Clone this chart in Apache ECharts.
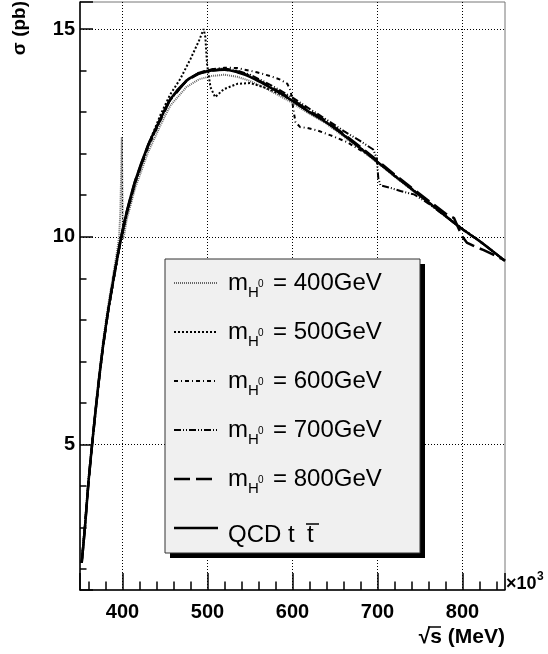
<!DOCTYPE html>
<html><head><meta charset="utf-8">
<script src="https://cdn.jsdelivr.net/npm/echarts@6/dist/echarts.min.js"></script>
<style>html,body{margin:0;padding:0;background:#fff}#c{width:548px;height:654px}</style>
</head><body><div id="c"></div>
<script>
// ---- data (sqrt(s) in units of 10^3 MeV, sigma in pb) ----
const qcdX = [352,356,360,364,368,372,377,383,390,398,405,415,430,445,456,475,490,505,520,535,550,566,586,600,620,640,660,680,700,720,740,760,780,800,820,850];
const qcdY = [2.15,3.05,4.1,4.95,5.75,6.5,7.35,8.2,9.05,9.95,10.6,11.35,12.2,12.85,13.3,13.75,13.93,14.0,14.02,13.96,13.85,13.68,13.45,13.27,13.0,12.75,12.45,12.13,11.8,11.47,11.15,10.83,10.5,10.18,9.9,9.42];

const h400 = [[352,2.2],[356,3.15],[360,4.2],[364,5.05],[368,5.85],[372,6.62],[377,7.47],[383,8.33],[390,9.2],[394,9.7],[396,10.0],[397.5,10.6],[398.5,11.6],[399.2,12.4],[399.8,11.2],[400.5,9.95],[402,10.05],[405,10.42],[415,11.18],[430,12.03],[445,12.7],[456,13.15],[475,13.6],[490,13.79],[505,13.87],[520,13.9],[535,13.85],[550,13.75],[566,13.6],[586,13.38],[600,13.22],[620,12.96],[640,12.72],[660,12.42],[680,12.1],[700,11.78],[720,11.45],[740,11.13],[760,10.81],[780,10.49],[800,10.17],[820,9.89],[850,9.42]];
const h500 = [[352,2.15],[356,3.05],[360,4.1],[364,4.95],[368,5.75],[372,6.5],[377,7.33],[383,8.17],[390,9.0],[398,9.9],[405,10.52],[415,11.3],[430,12.2],[445,12.95],[456,13.42],[468,13.8],[480,14.28],[490,14.72],[495.5,15.0],[497.5,14.8],[499.5,14.15],[503.5,13.6],[509,13.36],[519,13.55],[535,13.68],[550,13.7],[566,13.6],[586,13.43],[600,13.27],[620,13.0],[640,12.76],[660,12.46],[680,12.14],[700,11.8],[720,11.48],[740,11.16],[760,10.84],[780,10.51],[800,10.19],[820,9.9],[850,9.42]];
const h600 = [[352,2.15],[356,3.05],[360,4.1],[364,4.95],[368,5.75],[372,6.5],[377,7.35],[383,8.2],[390,9.05],[398,9.93],[405,10.55],[415,11.3],[430,12.15],[445,12.82],[456,13.28],[475,13.75],[490,13.95],[505,14.03],[520,14.07],[535,14.06],[558,13.96],[575,13.86],[586,13.78],[594,13.68],[598,13.5],[601.5,13.0],[603.5,12.76],[609,12.64],[617,12.62],[629,12.56],[645,12.44],[664,12.28],[676,12.13],[690,11.97],[700,11.8],[720,11.47],[740,11.15],[760,10.83],[780,10.5],[800,10.18],[820,9.9],[850,9.42]];
const h700 = [[352,2.15],[356,3.05],[360,4.1],[364,4.95],[368,5.75],[372,6.5],[377,7.35],[383,8.2],[390,9.05],[398,9.95],[405,10.58],[415,11.32],[430,12.17],[445,12.84],[456,13.3],[475,13.76],[490,13.95],[505,14.03],[520,14.05],[535,14.0],[550,13.9],[566,13.74],[586,13.52],[600,13.35],[620,13.08],[640,12.82],[660,12.55],[680,12.3],[695,12.1],[699,11.9],[701,11.4],[703.5,11.24],[715,11.18],[727,11.1],[743,11.02],[760,10.8],[780,10.49],[800,10.18],[820,9.9],[850,9.42]];
const h800 = [[352,2.15],[356,3.05],[360,4.1],[364,4.95],[368,5.75],[372,6.5],[377,7.35],[383,8.2],[390,9.05],[398,9.95],[405,10.6],[415,11.35],[430,12.2],[445,12.85],[456,13.3],[475,13.75],[490,13.93],[505,14.0],[520,14.03],[535,13.98],[550,13.87],[566,13.7],[586,13.47],[600,13.3],[620,13.03],[640,12.78],[660,12.48],[680,12.16],[700,11.83],[720,11.5],[740,11.18],[760,10.87],[780,10.56],[790,10.45],[795,10.22],[800,10.0],[805,9.86],[815,9.76],[825,9.68],[835,9.58],[845,9.48],[850,9.43]];

const higgsMasses = ['400GeV','500GeV','600GeV','700GeV','800GeV'];
const qcdLabel = 'QCD t';
const xTitle = '√s (MeV)';
const yTitle = 'σ (pb)';

// ---- styles ----
const FONT = "'Liberation Sans', Arial, Helvetica, sans-serif";
const lineStyles = [
  {color:'#666', width:2, dash:[1,1]},
  {color:'#000', width:2, dash:[2,2]},
  {color:'#000', width:2, dash:[4,3,1,3]},
  {color:'#000', width:2, dash:[7,2,1,2,1,2]},
  {color:'#000', width:2.5, dash:[16,6]},
  {color:'#000', width:2.5, dash:null}
];

const qcd = qcdX.map((x,i)=>[x,qcdY[i]]);
const allData = [h400,h500,h600,h700,h800,qcd];
const names = higgsMasses.map(m=>'mH0 = '+m).concat(['QCD t tbar']);

const series = allData.map((d,i)=>({
  name: names[i], type:'line', data:d, showSymbol:false, symbol:'none',
  smooth: i===5 ? 0.3 : false, silent:true, animation:false, z: 2+i,
  lineStyle:{color:lineStyles[i].color, width:lineStyles[i].width, type: lineStyles[i].dash || 'solid', cap:'butt'}
}));

// ---- legend (drawn as graphic) ----
const rowsY = [283,332,381,430,479,528];
const graphic = [
  {type:'rect', shape:{x:170,y:264,width:255,height:294}, style:{fill:'#000'}, z:50},
  {type:'rect', shape:{x:165,y:259,width:255,height:294}, style:{fill:'#f0f0f0', stroke:'#333', lineWidth:1}, z:51}
];
function txt(x,y,t,font,align,valign,extra){
  return Object.assign({type:'text', x:x, y:y, z:52,
    style:{text:t, font:font, fill:'#000', align:align||'left', textAlign:align||'left', verticalAlign:valign||'middle', textVerticalAlign:valign||'middle'}}, extra||{});
}
rowsY.forEach((ry,i)=>{
  const ls = lineStyles[i];
  graphic.push({type:'line', shape:{x1:174,y1:ry,x2:218,y2:ry}, z:52,
    style:{stroke:ls.color, lineWidth:ls.width, lineDash: ls.dash || null}});
  if (i<5){
    graphic.push(txt(228, ry, 'm', '24px '+FONT));
    graphic.push(txt(248, ry+10, 'H', '15px '+FONT));
    graphic.push(txt(258, ry+1, '0', '10px '+FONT));
    graphic.push(txt(273, ry, '= '+higgsMasses[i], '24px '+FONT));
  } else {
    graphic.push(txt(228, ry+7, qcdLabel, '24px '+FONT));
    graphic.push(txt(307, ry+7, 't', '24px '+FONT));
    graphic.push({type:'line', shape:{x1:306,y1:ry-4,x2:319,y2:ry-4}, z:52, style:{stroke:'#000', lineWidth:1.5}});
  }
});
// axis titles
graphic.push(txt(20, 1, yTitle, 'bold 19px '+FONT, 'right', 'middle', {rotation: Math.PI/2}));
graphic.push(txt(505, 637, xTitle, 'bold 21px '+FONT, 'right', 'middle'));
graphic.push({type:'line', shape:{x1:428,y1:627,x2:441,y2:627}, z:52, style:{stroke:'#000', lineWidth:1.5}});
graphic.push(txt(506, 584, '×10', 'bold 18px '+FONT, 'left', 'middle'));
graphic.push(txt(537, 577, '3', 'bold 12px '+FONT, 'left', 'middle'));

const chart = echarts.init(document.getElementById('c'), null, {renderer:'canvas'});
chart.setOption({
  animation:false,
  backgroundColor:'#fff',
  grid:{left:80, top:2, right:43, bottom:64, show:true, borderColor:'#777', borderWidth:1, containLabel:false},
  xAxis:{
    type:'value', min:350, max:850, splitNumber:5, z:10,
    axisLine:{show:true, onZero:false, lineStyle:{color:'#000', width:1.5}},
    axisTick:{show:true, inside:true, length:17, lineStyle:{color:'#000', width:1.5}},
    minorTick:{show:true, splitNumber:5, length:8.5, lineStyle:{color:'#000', width:1.5}},
    axisLabel:{show:true, margin:12, color:'#000', fontSize:20, fontWeight:'bold', fontFamily:FONT, showMinLabel:false, showMaxLabel:false},
    splitLine:{show:true, showMinLine:false, showMaxLine:false, lineStyle:{color:'#000', width:1, type:[1,2]}}
  },
  yAxis:{
    type:'value', min:1.5, max:15.65, splitNumber:3, z:10,
    axisLine:{show:true, onZero:false, lineStyle:{color:'#000', width:1.5}},
    axisTick:{show:true, inside:true, length:13, lineStyle:{color:'#000', width:1.5}},
    minorTick:{show:true, splitNumber:5, length:6.5, lineStyle:{color:'#000', width:1.5}},
    axisLabel:{show:true, margin:5, color:'#000', fontSize:20, fontWeight:'bold', fontFamily:FONT, showMinLabel:false, showMaxLabel:false},
    splitLine:{show:true, showMinLine:false, showMaxLine:false, lineStyle:{color:'#000', width:1, type:[1,2]}}
  },
  series: series,
  graphic: graphic
});
</script></body></html>
